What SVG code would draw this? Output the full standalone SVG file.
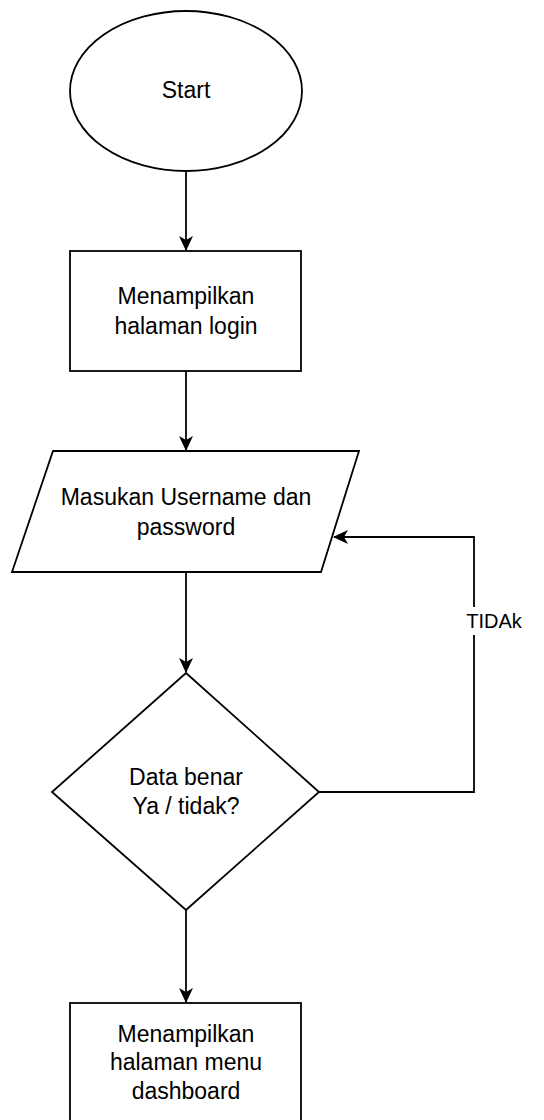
<svg xmlns="http://www.w3.org/2000/svg" width="544" height="1120" viewBox="0 0 544 1120">
<style>
.shape{fill:#ffffff;stroke:#000000;stroke-width:1.8}
.conn{fill:none;stroke:#000000;stroke-width:1.8}
.t{font-family:"Liberation Sans",Arial,sans-serif;font-size:23px;fill:#000000;text-anchor:middle}
</style>
<defs>
<marker id="arr" markerUnits="userSpaceOnUse" markerWidth="16" markerHeight="16" viewBox="0 0 16 16" refX="14" refY="8" orient="auto">
<path d="M0,1 L15,8 L0,15 L4,8 z" fill="#000000"/>
</marker>
</defs>
<rect width="544" height="1120" fill="#ffffff"/>
<g id="connectors">
<line class="conn" x1="186" y1="171" x2="186" y2="250" marker-end="url(#arr)"/>
<line class="conn" x1="186" y1="371" x2="186" y2="450" marker-end="url(#arr)"/>
<line class="conn" x1="186" y1="572" x2="186" y2="672" marker-end="url(#arr)"/>
<line class="conn" x1="186" y1="910" x2="186" y2="1002" marker-end="url(#arr)"/>
<polyline class="conn" points="319,792 474,792 474,537 334,537" marker-end="url(#arr)"/>
<rect x="466" y="607" width="56" height="28" fill="#ffffff"/>
<text class="t" x="494" y="628" style="font-size:20px">TIDAk</text>
</g>
<g id="start">
<ellipse class="shape" cx="186" cy="91" rx="116" ry="80"/>
<text class="t" x="186" y="98">Start</text>
</g>
<g id="login">
<rect class="shape" x="70" y="251" width="231" height="120"/>
<text class="t" x="186" y="304">Menampilkan</text>
<text class="t" x="186" y="334">halaman login</text>
</g>
<g id="input">
<polygon class="shape" points="53,451 359,451 321,572 12,572"/>
<text class="t" x="186" y="505">Masukan Username dan</text>
<text class="t" x="186" y="535">password</text>
</g>
<g id="decision">
<polygon class="shape" points="186,673 319,792 186,910 52,792"/>
<text class="t" x="186" y="785">Data benar</text>
<text class="t" x="186" y="814">Ya / tidak?</text>
</g>
<g id="dashboard">
<rect class="shape" x="70" y="1003" width="231" height="125"/>
<text class="t" x="186" y="1042">Menampilkan</text>
<text class="t" x="186" y="1070">halaman menu</text>
<text class="t" x="186" y="1099">dashboard</text>
</g>
</svg>
